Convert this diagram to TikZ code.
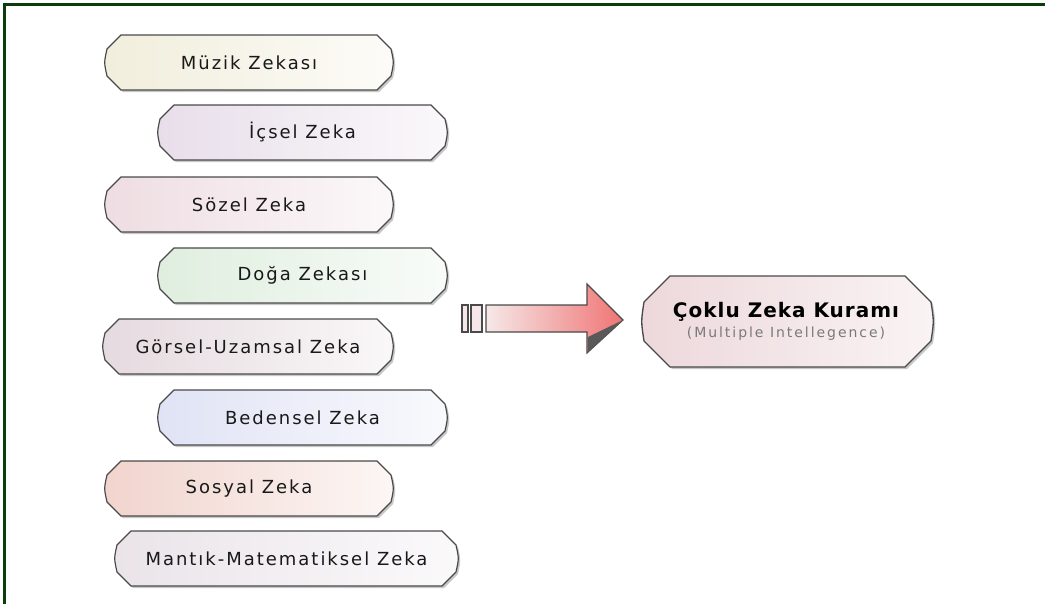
\documentclass[tikz,border=0pt]{standalone}
\usepackage{fontspec}
\setmainfont{DejaVu Sans}[LetterSpace=11]
\newfontfamily\boldfont{DejaVu Sans Bold}[LetterSpace=5]
\newfontfamily\subfont{DejaVu Sans}[LetterSpace=14]
\usetikzlibrary{calc}
\definecolor{framec}{HTML}{0B3D0B}
\definecolor{bordc}{HTML}{4A4A4A}
\definecolor{shadc}{HTML}{C8C8C8}
\definecolor{cMuzik}{HTML}{F1EEDC}
\definecolor{cIcsel}{HTML}{E8DEEA}
\definecolor{cSozel}{HTML}{EEDDE2}
\definecolor{cDoga}{HTML}{DFEEDF}
\definecolor{cGorsel}{HTML}{E5DADF}
\definecolor{cBeden}{HTML}{E0E3F5}
\definecolor{cSosyal}{HTML}{F1D4CD}
\definecolor{cMantik}{HTML}{EAE4E9}
\definecolor{cMain}{HTML}{EDD8DB}
\definecolor{arrL}{HTML}{F6E8E8}
\definecolor{arrR}{HTML}{F07474}
\definecolor{subc}{HTML}{7A7A7A}
\newcommand\octpath[5]{(#1+#5,#2) -- (#3-#5,#2) -- (#3,#2+#5) .. controls (#3+3,{(#2+#4)/2}) .. (#3,#4-#5) -- (#3-#5,#4) -- (#1+#5,#4) -- (#1,#4-#5) .. controls (#1-3,{(#2+#4)/2}) .. (#1,#2+#5) -- cycle}
\newcommand\zbox[7]{%
  \fill[shadc, shift={(2,2)}] \octpath{#2}{#3}{#4}{#5}{14};
  \shadedraw[left color=#6, right color=#6!20!white, draw=bordc, line width=0.9pt] \octpath{#2}{#3}{#4}{#5}{14};
  \node[ztext] (#1) at ({(#2+#4)/2},{(#3+#5)/2}) {#7};
}
\tikzset{
  ztext/.style={font=\fontsize{13.5}{16}\selectfont, text=black!90, inner sep=0pt},
  maintext/.style={font=\boldfont\fontsize{15}{17}\selectfont, text=black, inner sep=0pt},
  subtext/.style={font=\subfont\fontsize{10.5}{12}\selectfont, text=subc, inner sep=0pt},
}
\begin{document}
\begin{tikzpicture}[x=0.75pt,y=-0.75pt]
\useasboundingbox (0,0) rectangle (1045,604);
\fill[white] (0,0) rectangle (1045,604);
\draw[framec, line width=2.3pt] (4.5,604) -- (4.5,4.5) -- (1045,4.5);

\zbox{muzik}{107}{35}{391}{90}{cMuzik}{Müzik Zekası}
\zbox{icsel}{160}{105}{445}{160}{cIcsel}{İçsel Zeka}
\zbox{sozel}{107}{177}{391}{232}{cSozel}{Sözel Zeka}
\zbox{doga}{160}{248}{445}{303}{cDoga}{Doğa Zekası}
\zbox{gorsel}{105}{319}{391}{374}{cGorsel}{Görsel-Uzamsal Zeka}
\zbox{beden}{160}{390}{445}{445}{cBeden}{Bedensel Zeka}
\zbox{sosyal}{107}{461}{391}{516}{cSosyal}{Sosyal Zeka}
\zbox{mantik}{117}{531}{456}{586}{cMantik}{Mantık-Matematiksel Zeka}

% arrow
\draw[fill=arrL, draw=bordc, line width=0.8pt] (462,305) rectangle (468,332);
\draw[fill=arrL, draw=bordc, line width=0.8pt] (471,305) rectangle (482,332);
\shadedraw[left color=arrL, right color=arrR, draw=bordc, line width=0.8pt]
  (486,305) -- (587,305) -- (587,284) -- (623,320) -- (587,353) -- (587,332) -- (486,332) -- cycle;
\fill[black!65] (588,337) -- (621,321) -- (588,352) -- cycle;

% main box
\fill[shadc, shift={(2,2)}] \octpath{644}{276}{931}{367}{26};
\shadedraw[left color=cMain, right color=cMain!30!white, draw=bordc, line width=1pt] \octpath{644}{276}{931}{367}{26};
\node[maintext] (main) at (786,312) {Çoklu Zeka Kuramı};
\node[subtext] (sub) at (786,334) {(Multiple Intellegence)};
\end{tikzpicture}
\end{document}
